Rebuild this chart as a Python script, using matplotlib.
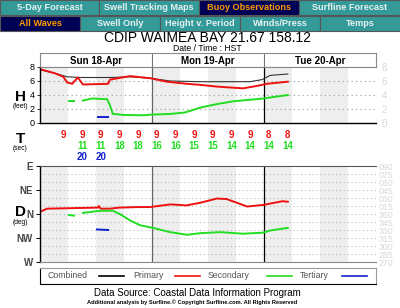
import matplotlib
matplotlib.use("Agg")
from matplotlib import pyplot as plt
from matplotlib.patches import Rectangle

plt.rcParams['font.family'] = ['Liberation Sans', 'DejaVu Sans']

W, H = 400, 308

# ---- data (hours from Sun 18-Apr 00:00 HST) ----
days = ['Sun 18-Apr', 'Mon 19-Apr', 'Tue 20-Apr']

comb_t = [0, 3.2, 5.8, 8.6, 15, 19.3, 23.6, 27.9, 34.3, 45, 47.6, 49.3, 53.1]
comb_h = [7.6, 7.1, 6.6, 6.5, 6.5, 6.6, 6.4, 6.0, 5.9, 5.9, 6.2, 6.8, 7.0]

prim_t = [0, 3.2, 5.0, 5.8, 6.9, 8.1, 9.2, 14.6, 15.0, 19.3, 23.6, 27.2, 31.5, 34.3, 37.9, 43.5, 46.5, 48.6, 53.1]
prim_h = [7.7, 7.1, 6.6, 5.8, 5.6, 6.5, 5.5, 5.6, 6.2, 6.7, 6.4, 5.9, 5.6, 5.45, 5.2, 4.95, 5.3, 5.6, 5.9]

sec_t1 = [6.2, 7.3]
sec_h1 = [3.2, 3.2]
sec_t2 = [9.2, 11.1, 14.4, 15.0, 15.6, 18, 22, 24, 28, 31, 33, 34.3, 37.9, 41.4, 47.8, 53.1]
sec_h2 = [3.2, 3.5, 3.4, 2.5, 1.3, 1.15, 1.1, 1.2, 1.3, 1.5, 1.9, 2.2, 2.7, 3.1, 3.5, 4.0]

ter_t = [12.4, 14.6]
ter_h = [0.8, 0.8]

# directions, in degrees (values below 180 shifted by 360 so N sits mid-axis)
prim_dt = [0, 1.5, 12.4, 12.6, 13, 15, 17, 21, 23.6, 27.9, 30, 31.3, 34.3, 37.9, 40, 44.4, 47.8, 52, 53.1]
prim_d = [364, 370, 372, 375, 370, 370, 372, 373, 373, 378, 377, 376, 381, 389, 388, 374, 377, 384, 383]

sec_dt1 = [6.2, 7.3]
sec_d1 = [358, 357]
sec_dt2 = [9.2, 12.8, 15.6, 17.1, 19.3, 21.4, 24.2, 27.9, 31.5, 34.3, 38.6, 43.5, 47.8, 49.3, 53.1]
sec_d2 = [362, 366, 366, 360, 348, 339, 334, 326, 321, 324, 326, 323, 325, 329, 334]

ter_dt = [12.2, 14.6]
ter_d = [331, 330]

# periods every 4 h
per_t = [5 + 4 * k for k in range(13)]
per_prim = [9, 9, 9, 9, 9, 9, 9, 9, 9, 9, 9, 8, 8]
per_sec = [None, 11, 11, 18, 18, 16, 16, 15, 15, 14, 14, 14, 14]
per_ter = [None, 20, 20, None, None, None, None, None, None, None, None, None, None]

nav1 = ['5-Day Forecast', 'Swell Tracking Maps', 'Buoy Observations', 'Surfline Forecast']
nav2 = ['All Waves', 'Swell Only', 'Height v. Period', 'Winds/Press', 'Temps']

teal = '#339a99'
navy = '#000055'
orange = '#ff9900'
red = '#ee1111'
green = '#22dd22'
blue = '#1122cc'
shade = '#eeeeee'


def box(x0, y0, x1, y1):
    return [x0 / W, 1 - y1 / H, (x1 - x0) / W, (y1 - y0) / H]


fig = plt.figure(figsize=(W / 100, H / 100), dpi=100)

# ---- nav bars ----
nav = fig.add_axes([0, 0, 1, 1])
nav.set_xlim(0, W)
nav.set_ylim(H, 0)
nav.axis('off')
edges1 = [0, 99, 199, 299, 400]
for i, lab in enumerate(nav1):
    act = i == 2
    nav.add_patch(Rectangle((edges1[i], 0), edges1[i + 1] - edges1[i], 15,
                            fc=navy if act else teal, ec='#555555', lw=0.8))
    nav.text((edges1[i] + edges1[i + 1]) / 2, 7.8, lab, ha='center', va='center',
             fontsize=6.6, fontweight='bold', color=orange if act else '#e6f2f2')
edges2 = [0, 80, 160, 240, 320, 400]
for i, lab in enumerate(nav2):
    act = i == 0
    nav.add_patch(Rectangle((edges2[i], 15.5), edges2[i + 1] - edges2[i], 15,
                            fc=navy if act else teal, ec='#555555', lw=0.8))
    nav.text((edges2[i] + edges2[i + 1]) / 2, 23.3, lab, ha='center', va='center',
             fontsize=6.6, fontweight='bold', color=orange if act else '#e6f2f2')

nav.text(207, 38, 'CDIP WAIMEA BAY 21.67 158.12', ha='center', va='center', fontsize=10)
nav.text(207, 48.5, 'Date / Time : HST', ha='center', va='center', fontsize=6.2)

nav.text(20, 97, 'H', ha='center', va='center', fontsize=11, fontweight='bold')
nav.text(20, 107, '(feet)', ha='center', va='center', fontsize=4.8)
nav.text(20, 139, 'T', ha='center', va='center', fontsize=11, fontweight='bold')
nav.text(20, 148, '(sec)', ha='center', va='center', fontsize=4.8)
nav.text(20, 212, 'D', ha='center', va='center', fontsize=11, fontweight='bold')
nav.text(20, 222, '(deg)', ha='center', va='center', fontsize=4.8)

nav.text(197, 293, 'Data Source: Coastal Data Information Program', ha='center', va='center',
         fontsize=7)
nav.text(192, 302, 'Additional analysis by Surfline.\u00a9 Copyright Surfline.com. All Rights Reserved',
         ha='center', va='center', fontsize=4.1, fontweight='bold')


def shade_nights(ax):
    for d in range(3):
        ax.axvspan(24 * d, 24 * d + 6, color=shade, lw=0, zorder=0)
        ax.axvspan(24 * d + 12, 24 * d + 18, color=shade, lw=0, zorder=0)


# ---- day header ----
hdr = fig.add_axes(box(40, 53, 376, 67))
hdr.set_xlim(0, 72)
hdr.set_ylim(0, 1)
hdr.set_xticks([])
hdr.set_yticks([])
for s in hdr.spines.values():
    s.set_color('#888888')
    s.set_linewidth(0.8)
for d in (24, 48):
    hdr.axvline(d, color='#777777', lw=0.8)
for i, lab in enumerate(days):
    hdr.text(24 * i + 12, 0.45, lab, ha='center', va='center', fontsize=7, fontweight='bold')

# ---- height plot ----
ax = fig.add_axes(box(40, 67, 376, 123))
ax.set_xlim(0, 72)
ax.set_ylim(0, 8)
shade_nights(ax)
for v in (2, 4, 6):
    ax.axhline(v, color='#999999', lw=0.8, ls=(0, (1, 3)), zorder=1)
ax.axvline(24, color='#666666', lw=0.9, zorder=1)
ax.axvline(48, color='#000000', lw=0.9, zorder=1)
ax.plot(comb_t, comb_h, color='#333333', lw=0.8, zorder=1.5)
ax.plot(prim_t, prim_h, color=red, lw=1.4, zorder=2)
ax.plot(sec_t1, sec_h1, color=green, lw=1.4, zorder=2)
ax.plot(sec_t2, sec_h2, color=green, lw=1.4, zorder=2)
ax.plot(ter_t, ter_h, color=blue, lw=1.4, zorder=2)
ax.set_xticks([])
ax.set_yticks([0, 2, 4, 6, 8])
ax.set_yticklabels(['0', '2', '4', '6', '8'], fontsize=6.5)
ax.tick_params(axis='y', length=2, width=0.7, pad=2, color='#333333')
ax.spines['top'].set_color('#888888')
ax.spines['top'].set_linewidth(0.8)
ax.spines['right'].set_visible(False)
ax.spines['left'].set_linewidth(1.0)
ax.spines['bottom'].set_linewidth(1.0)
axr = ax.twinx()
axr.set_ylim(0, 8)
axr.set_yticks([0, 2, 4, 6, 8])
axr.set_yticklabels(['0', '2', '4', '6', '8'], fontsize=7, color='#d8d8d8')
axr.tick_params(axis='y', length=0, pad=4)
for s in axr.spines.values():
    s.set_visible(False)

# ---- period rows ----
pa = fig.add_axes(box(40, 129, 376, 163))
pa.set_xlim(0, 72)
pa.set_ylim(3.5, 0.5)
pa.axis('off')
for t, a, b, c in zip(per_t, per_prim, per_sec, per_ter):
    pa.text(t, 1, str(a), ha='center', va='center', fontsize=7, fontweight='bold', color=red)
    if b is not None:
        pa.text(t, 2, str(b), ha='center', va='center', fontsize=7, fontweight='bold', color=green)
    if c is not None:
        pa.text(t, 3, str(c), ha='center', va='center', fontsize=7, fontweight='bold', color=blue)

# ---- direction plot ----
bx = fig.add_axes(box(40, 166, 376, 262))
bx.set_xlim(0, 72)
bx.set_ylim(270, 450)
shade_nights(bx)
for v in range(285, 450, 15):
    bx.axhline(v, color='#aaaaaa', lw=0.7, ls=(0, (1, 3)), zorder=1)
bx.axvline(24, color='#666666', lw=0.9, zorder=1)
bx.axvline(48, color='#000000', lw=0.9, zorder=1)
bx.plot(prim_dt, prim_d, color=red, lw=1.4, zorder=2)
bx.plot(sec_dt1, sec_d1, color=green, lw=1.4, zorder=2)
bx.plot(sec_dt2, sec_d2, color=green, lw=1.4, zorder=2)
bx.plot(ter_dt, ter_d, color=blue, lw=1.4, zorder=2)
bx.set_xticks([])
bx.set_yticks([270, 315, 360, 405, 450])
bx.set_yticklabels(['W', 'NW', 'N', 'NE', 'E'], fontsize=7, fontweight='bold', color='#444444')
bx.tick_params(axis='y', length=3, width=0.7, pad=2)
bx.spines['right'].set_visible(False)
bx.spines['top'].set_color('#555555')
bx.spines['bottom'].set_color('#888888')
bx.spines['left'].set_linewidth(1.0)
bxr = bx.twinx()
bxr.set_ylim(270, 450)
deg_ticks = list(range(270, 451, 15))
bxr.set_yticks(deg_ticks)
bxr.set_yticklabels(['%03d' % (v % 360 if v != 360 else 360) for v in deg_ticks],
                    fontsize=6.3, color='#d8d8d8')
bxr.tick_params(axis='y', length=0, pad=2)
for s in bxr.spines.values():
    s.set_visible(False)

# ---- legend ----
lg = fig.add_axes(box(40, 268, 376, 284))
lg.set_xlim(40, 376)
lg.set_ylim(0, 1)
lg.set_xticks([])
lg.set_yticks([])
for s in lg.spines.values():
    s.set_linewidth(0.8)
lg.spines['top'].set_color('#999999')
lg.spines['right'].set_color('#999999')
entries = [('Combined', '#000000', 47, 99), ('Primary', red, 133, 175),
           ('Secondary', green, 208, 267), ('Tertiary', blue, 300, 342)]
for lab, col, tx, lx in entries:
    lg.text(tx, 0.5, lab, ha='left', va='center', fontsize=6.3, color='#555555')
    lg.plot([lx, lx + 25], [0.5, 0.5], color=col, lw=1.2)

fig.savefig('out.png', dpi=100)
